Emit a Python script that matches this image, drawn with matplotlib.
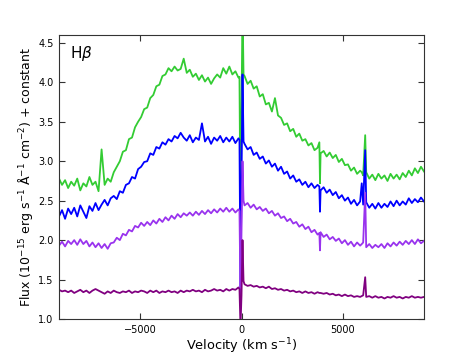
import numpy as np
import matplotlib
matplotlib.use("Agg")
import matplotlib.pyplot as plt

# Velocity sampling of the spectra (km/s)
vel_grid = np.arange(-9000, 9001, 150)

green_flux = [
    2.78, 2.70, 2.76, 2.66, 2.74, 2.69, 2.78, 2.63, 2.72, 2.68,
    2.80, 2.70, 2.74, 2.62, 3.15, 2.70, 2.78, 2.74, 2.86, 2.93,
    3.00, 3.12, 3.14, 3.28, 3.30, 3.43, 3.50, 3.56, 3.66, 3.68,
    3.80, 3.84, 3.95, 3.97, 4.08, 4.10, 4.18, 4.14, 4.20, 4.15,
    4.17, 4.30, 4.12, 4.16, 4.07, 4.11, 4.03, 4.09, 4.01, 4.06,
    3.98, 4.05, 4.10, 4.06, 4.18, 4.11, 4.20, 4.10, 4.14, 4.06,
    3.60,
    4.08, 3.98, 4.02, 3.92, 3.95, 3.82, 3.85, 3.72, 3.74, 3.63,
    3.80, 3.58, 3.55, 3.46, 3.48, 3.38, 3.41, 3.31, 3.35, 3.26,
    3.28, 3.20, 3.23, 3.14, 3.17, 3.10, 3.13, 3.06, 3.11, 3.04,
    3.08, 2.99, 3.03, 2.95, 2.96, 2.88, 2.92, 2.84, 2.88, 2.82,
    2.86, 2.78, 2.83, 2.76, 2.84, 2.78, 2.82, 2.75, 2.84, 2.78,
    2.83, 2.77, 2.85, 2.80, 2.88, 2.82, 2.91, 2.85, 2.93, 2.87,
]

blue_flux = [
    2.30, 2.38, 2.27, 2.40, 2.33, 2.41, 2.30, 2.44, 2.36, 2.28,
    2.43, 2.37, 2.47, 2.38, 2.45, 2.51, 2.44, 2.53, 2.56, 2.52,
    2.62, 2.60, 2.70, 2.72, 2.80, 2.78, 2.90, 2.93, 2.99, 3.00,
    3.10, 3.08, 3.18, 3.16, 3.24, 3.21, 3.28, 3.25, 3.32, 3.29,
    3.36, 3.30, 3.26, 3.33, 3.24, 3.30, 3.27, 3.48, 3.25, 3.31,
    3.22, 3.30, 3.26, 3.32, 3.24, 3.30, 3.25, 3.31, 3.23, 3.29,
    2.70,
    3.22, 3.15, 3.18, 3.08, 3.11, 3.03, 3.06, 2.97, 3.01, 2.93,
    2.97, 2.88, 2.93, 2.84, 2.87, 2.78, 2.82, 2.74, 2.77, 2.70,
    2.74, 2.67, 2.72, 2.66, 2.70, 2.63, 2.67, 2.60, 2.64, 2.57,
    2.61, 2.53, 2.57, 2.50, 2.54, 2.46, 2.51, 2.44, 2.49, 2.45,
    2.48, 2.41, 2.46, 2.40, 2.47, 2.41, 2.46, 2.42, 2.49, 2.43,
    2.50, 2.44, 2.49, 2.45, 2.53, 2.47, 2.52, 2.48, 2.54, 2.49,
]

purple_flux = [
    1.93, 1.98, 1.92, 1.99, 1.95, 2.00, 1.94, 2.01, 1.95, 1.99,
    1.92, 1.97, 1.91, 1.96, 1.90, 1.95, 1.89, 1.96, 1.97, 2.03,
    2.00, 2.08, 2.06, 2.13, 2.11, 2.18, 2.16, 2.22, 2.18, 2.23,
    2.19, 2.25, 2.21, 2.27, 2.23, 2.29, 2.25, 2.31, 2.27, 2.33,
    2.29, 2.34, 2.31, 2.35, 2.31, 2.36, 2.32, 2.37, 2.33, 2.38,
    2.34, 2.39, 2.35, 2.40, 2.36, 2.41, 2.36, 2.40, 2.35, 2.39,
    2.10,
    2.44, 2.47, 2.41, 2.45, 2.39, 2.42, 2.37, 2.40, 2.34, 2.37,
    2.31, 2.34, 2.28, 2.30, 2.24, 2.27, 2.21, 2.23, 2.17, 2.20,
    2.14, 2.17, 2.10, 2.13, 2.07, 2.10, 2.04, 2.07, 2.01, 2.04,
    1.99, 2.02, 1.96, 2.00, 1.94, 1.98, 1.92, 1.97, 1.93, 1.97,
    1.91, 1.95, 1.90, 1.94, 1.91, 1.95, 1.90, 1.96, 1.92, 1.97,
    1.93, 1.98, 1.94, 1.99, 1.95, 2.00, 1.95, 2.01, 1.96, 1.99,
]

darkpurple_flux = [
    1.37, 1.35, 1.36, 1.34, 1.36, 1.33, 1.35, 1.37, 1.34, 1.36,
    1.33, 1.36, 1.38, 1.36, 1.34, 1.32, 1.35, 1.33, 1.36, 1.34,
    1.33, 1.35, 1.34, 1.36, 1.33, 1.35, 1.34, 1.36, 1.35, 1.33,
    1.36, 1.34, 1.36, 1.33, 1.35, 1.34, 1.36, 1.34, 1.35, 1.33,
    1.36, 1.34, 1.36, 1.35, 1.37, 1.35, 1.36, 1.34, 1.37, 1.35,
    1.36, 1.38, 1.36, 1.37, 1.35, 1.38, 1.36, 1.38, 1.37, 1.40,
    1.30,
    1.44, 1.42, 1.43, 1.41, 1.42, 1.40, 1.41, 1.39, 1.41, 1.38,
    1.39, 1.37, 1.38, 1.36, 1.37, 1.35, 1.36, 1.34, 1.35, 1.33,
    1.35, 1.33, 1.34, 1.32, 1.34, 1.33, 1.32, 1.33, 1.31, 1.32,
    1.30, 1.31, 1.29, 1.31, 1.29, 1.30, 1.28, 1.29, 1.28, 1.30,
    1.28, 1.29, 1.27, 1.29, 1.27, 1.28, 1.26, 1.28, 1.27, 1.29,
    1.27, 1.28, 1.26, 1.28, 1.27, 1.29, 1.27, 1.28, 1.27, 1.28,
]

# Narrow features (host Hbeta at 0, sky/residual features)
extra_vel = [-100, -50, 50, 100, 3840, 3870, 5930, 6100]
green_extra = [4.07, 2.20, 5.00, 4.10, 3.24, 2.72, 2.86, 3.33]
blue_extra = [3.27, 1.35, 4.10, 3.25, 2.68, 2.36, 2.72, 3.14]
purple_extra = [2.37, 1.30, 3.00, 2.50, 2.09, 1.87, 1.95, 2.60]
darkpurple_extra = [1.38, 0.90, 2.00, 1.48, 1.33, 1.33, 1.29, 1.53]

series = [
    (green_flux, green_extra, "#33cc33"),
    (blue_flux, blue_extra, "#0000ff"),
    (purple_flux, purple_extra, "#9933ee"),
    (darkpurple_flux, darkpurple_extra, "#800080"),
]

fig = plt.figure(figsize=(4.71, 3.56), dpi=100)
ax = fig.add_axes([59 / 471, 1 - 319 / 356, (424 - 59) / 471, (319 - 35) / 356])

for flux, extra, color in series:
    v = np.concatenate([vel_grid, extra_vel])
    f = np.concatenate([flux, extra])
    order = np.argsort(v, kind="stable")
    ax.plot(v[order], f[order], color=color, lw=1.3)

ax.set_xlim(-9000, 9000)
ax.set_ylim(1.0, 4.6)
ax.set_xticks([-5000, 0, 5000])
ax.set_yticks([1.0, 1.5, 2.0, 2.5, 3.0, 3.5, 4.0, 4.5])
ax.set_yticklabels(["1.0", "1.5", "2.0", "2.5", "3.0", "3.5", "4.0", "4.5"])
ax.tick_params(direction="in", top=True, right=True, labelsize=7, length=4,
               color="#333333", pad=4)
for s in ax.spines.values():
    s.set_color("#333333")

ax.set_xlabel(r"Velocity (km s$^{-1}$)", fontsize=9.3, labelpad=1)
ax.set_ylabel(r"Flux (10$^{-15}$ erg s$^{-1}$ $\mathrm{\AA}^{-1}$ cm$^{-2}$) + constant",
              fontsize=9, labelpad=2)
ax.text(0.03, 0.935, r"H$\beta$", transform=ax.transAxes, fontsize=11,
        va="center", ha="left")

fig.savefig("out.png", dpi=100)
